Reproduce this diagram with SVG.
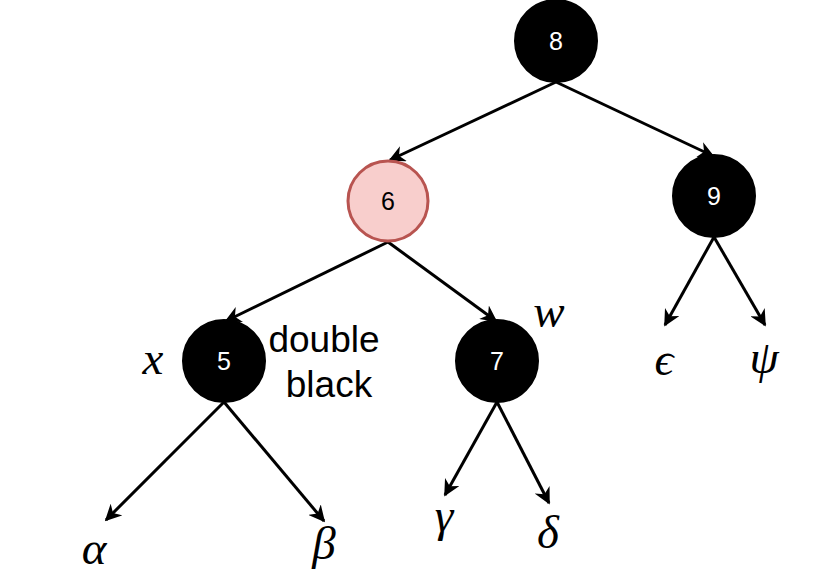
<svg xmlns="http://www.w3.org/2000/svg" width="836" height="582" viewBox="0 0 836 582">
<defs>
<marker id="arr" viewBox="0 0 10 10" refX="9" refY="5" markerWidth="5.5" markerHeight="5.5" markerUnits="strokeWidth" orient="auto">
<path d="M0,0 L10,5 L0,10 L3,5 z" fill="#000"/>
</marker>
</defs>
<style>
.edge{stroke:#000;stroke-width:3;fill:none;marker-end:url(#arr)}
.blk{fill:#000;stroke:#000;stroke-width:2}
.red{fill:#f8cecc;stroke:#b85450;stroke-width:3}
.num{font-family:"Liberation Sans",Arial,sans-serif;font-size:25px;text-anchor:middle}
.w{fill:#fff}
.math{font-family:"Liberation Serif","DejaVu Serif",serif;font-style:italic;font-size:47px;text-anchor:middle;fill:#000}
.lbl{font-family:"Liberation Sans",Arial,sans-serif;font-size:37px;text-anchor:middle;fill:#000}
</style>
<rect width="836" height="582" fill="#fff"/>
<g id="connectors">
<line class="edge" x1="556" y1="82" x2="390" y2="160"/>
<line class="edge" x1="556" y1="82" x2="713" y2="156"/>
<line class="edge" x1="388" y1="242" x2="226" y2="321"/>
<line class="edge" x1="388" y1="242" x2="496" y2="321"/>
<line class="edge" x1="224" y1="402" x2="106" y2="520"/>
<line class="edge" x1="224" y1="402" x2="324" y2="521"/>
<line class="edge" x1="497" y1="402" x2="445" y2="495"/>
<line class="edge" x1="497" y1="402" x2="549" y2="503"/>
<line class="edge" x1="714" y1="237" x2="665" y2="325"/>
<line class="edge" x1="714" y1="237" x2="765" y2="325"/>
</g>
<g id="n8"><circle class="blk" cx="556" cy="41" r="41"/><text class="num w" x="556" y="50">8</text></g>
<g id="n6"><circle class="red" cx="388" cy="201" r="40"/><text class="num" x="388" y="210">6</text></g>
<g id="n9"><circle class="blk" cx="714" cy="196" r="41"/><text class="num w" x="714" y="205">9</text></g>
<g id="n5"><circle class="blk" cx="224" cy="361" r="41"/><text class="num w" x="224" y="370">5</text></g>
<g id="n7"><circle class="blk" cx="497" cy="361" r="41"/><text class="num w" x="497" y="370">7</text></g>
<g id="labels">
<text class="lbl" x="324" y="352">double</text>
<text class="lbl" x="329" y="397">black</text>
<text class="math" x="153" y="374">x</text>
<text class="math" x="549" y="327">w</text>
<text class="math" x="94" y="564">α</text>
<text class="math" x="324" y="559">β</text>
<text class="math" x="444" y="531">γ</text>
<text class="math" x="548" y="548">δ</text>
<text class="math" x="664" y="375">ϵ</text>
<text class="math" x="764" y="373">ψ</text>
</g>
</svg>
